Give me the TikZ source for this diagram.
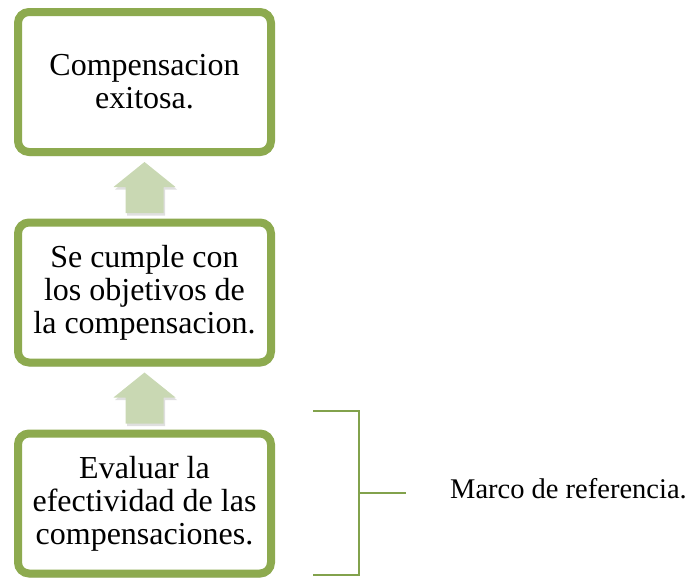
\documentclass[tikz,border=0pt]{standalone}
\usepackage{fontspec}
\setmainfont{Liberation Serif}
\usetikzlibrary{shadows,calc}
\definecolor{boxgreen}{HTML}{8DAA4F}
\definecolor{arrowgreen}{HTML}{C9D8B3}
\definecolor{brackgreen}{HTML}{82A24C}
\tikzset{
  stepbox/.style={draw=boxgreen, line width=8pt, rounded corners=11pt, fill=white,
    minimum width=253pt, minimum height=140pt, align=center, inner sep=0pt,
    font=\fontsize{32pt}{33pt}\selectfont,
    drop shadow={opacity=0.3, shadow xshift=1pt, shadow yshift=-4pt, fill=gray}},
  uparrowfill/.style={fill=arrowgreen,
    drop shadow={opacity=0.25, shadow xshift=1.5pt, shadow yshift=-2.5pt, fill=gray}},
  bracketline/.style={draw=brackgreen, line width=2pt},
  pics/uparr/.style={code={
    \path[uparrowfill] (0,0) -- (31,-25) -- (19,-25) -- (19,-51) -- (-19,-51) -- (-19,-25) -- (-31,-25) -- cycle;}}
}
\begin{document}
\begin{tikzpicture}[x=1pt,y=1pt]
\useasboundingbox (0,0) rectangle (694,-579);
\node[stepbox] (b1) at (144.5,-82) {Compensacion\\exitosa.};
\node[stepbox] (b2) at (144.5,-292.5) {Se cumple con\\los objetivos de\\la compensacion.};
\node[stepbox] (b3) at (144.5,-503.5) {Evaluar la\\efectividad de las\\compensaciones.};
\coordinate (a1) at ($(b1.south)+(0,-6)$);
\coordinate (a2) at ($(b2.south)+(0,-6)$);
\pic at (a1) {uparr};
\pic at (a2) {uparr};
\coordinate (bt) at (313,-411);
\coordinate (bb) at (313,-575);
\coordinate (bm) at (359,-493);
\coordinate (be) at (406,-493);
\draw[bracketline] (bt) -| (bb -| bm) -- (bb);
\draw[bracketline] (bm) -- (be);
\node[anchor=base west, inner sep=0pt, font=\fontsize{28.5pt}{30pt}\selectfont] (lbl) at (450,-498) {Marco de referencia.};
\end{tikzpicture}
\end{document}
